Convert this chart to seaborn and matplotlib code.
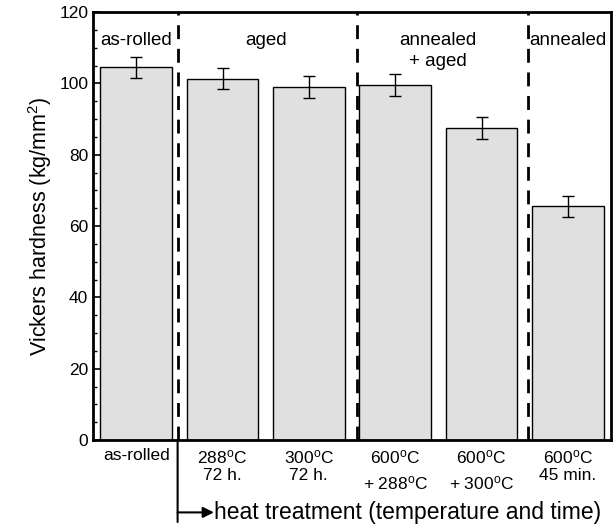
import matplotlib
matplotlib.use("Agg")
import matplotlib.pyplot as plt
import seaborn as sns
import pandas as pd
from matplotlib.ticker import MultipleLocator

categories = ["as-rolled", "288$^{\\rm o}$C\n72 h.", "300$^{\\rm o}$C\n72 h.",
              "600$^{\\rm o}$C", "600$^{\\rm o}$C ", "600$^{\\rm o}$C\n45 min."]
extra_labels = [(3, "+ 288$^{\\rm o}$C"), (4, "+ 300$^{\\rm o}$C")]
hardness = [104.5, 101.3, 99.0, 99.5, 87.5, 65.5]
errors = [3.0, 3.0, 3.0, 3.0, 3.0, 3.0]
group_lines = [("as-rolled", 0, 112), ("aged", 1.5, 112), ("annealed", 3.5, 112),
               ("+ aged", 3.5, 106), ("annealed", 5, 112)]
separators = [0.48, 2.56, 4.54]

sns.set_theme(style="white")
plt.rcParams['font.family'] = ['Liberation Sans', 'DejaVu Sans']
plt.rcParams['mathtext.fontset'] = 'custom'
plt.rcParams['mathtext.rm'] = 'Liberation Sans'
plt.rcParams['mathtext.it'] = 'Liberation Sans'
plt.rcParams['text.color'] = 'black'
plt.rcParams['axes.labelcolor'] = 'black'
plt.rcParams['xtick.color'] = 'black'
plt.rcParams['ytick.color'] = 'black'

df = pd.DataFrame({"cat": categories, "val": hardness})

fig = plt.figure(figsize=(6.14, 5.28), dpi=100)
ax = fig.add_axes([93/614, 88/528, 518/614, 428/528])

sns.barplot(data=df, x="cat", y="val", ax=ax, color="#e0e0e0", edgecolor="black",
            linewidth=1.0, width=0.83, saturation=1, errorbar=None)
ax.errorbar(range(len(hardness)), hardness, yerr=errors, fmt="none", ecolor="black",
            elinewidth=1.0, capsize=4, capthick=1.0)

for s in separators:
    ax.axvline(s, color="black", lw=2, ls=(0, (5, 3.5)))

for lab, c, yy in group_lines:
    ax.text(c, yy, lab, ha="center", va="center", fontsize=13.5)

ax.set_xlim(-0.5, 5.5)
ax.set_ylim(0, 120)
ax.yaxis.set_major_locator(MultipleLocator(20))
ax.yaxis.set_minor_locator(MultipleLocator(5))
ax.tick_params(axis="y", which="major", direction="in", length=6, width=1.2, left=True, labelsize=12.5)
ax.tick_params(axis="y", which="minor", direction="in", length=3, width=1.0, left=True)
ax.tick_params(axis="x", bottom=False, labelsize=12.5, pad=0)
for t in ax.get_xticklabels():
    t.set_linespacing(1.1)
ax.set_xlabel("")
ax.set_ylabel("Vickers hardness (kg/mm$^2$)", fontsize=15.5)
for sp in ax.spines.values():
    sp.set_visible(True)
    sp.set_color("black")
    sp.set_linewidth(2)

for xi, lab in extra_labels:
    ax.text(xi, -12.0, lab, ha="center", va="center", fontsize=12.5, clip_on=False)

# heat treatment arrow
ax.annotate("", xy=(separators[0], -23), xytext=(separators[0], 0), xycoords="data",
            arrowprops=dict(arrowstyle="-", lw=1.5, color="black", shrinkA=0, shrinkB=0),
            annotation_clip=False)
ax.annotate("", xy=(0.9, -20.3), xytext=(separators[0], -20.3),
            arrowprops=dict(arrowstyle="-|>", lw=1.5, color="black", mutation_scale=16,
                            shrinkA=0, shrinkB=0), annotation_clip=False)
ax.text(0.9, -20.3, "heat treatment (temperature and time)", ha="left", va="center",
        fontsize=16.5, clip_on=False)

fig.savefig("out.png", dpi=100)
